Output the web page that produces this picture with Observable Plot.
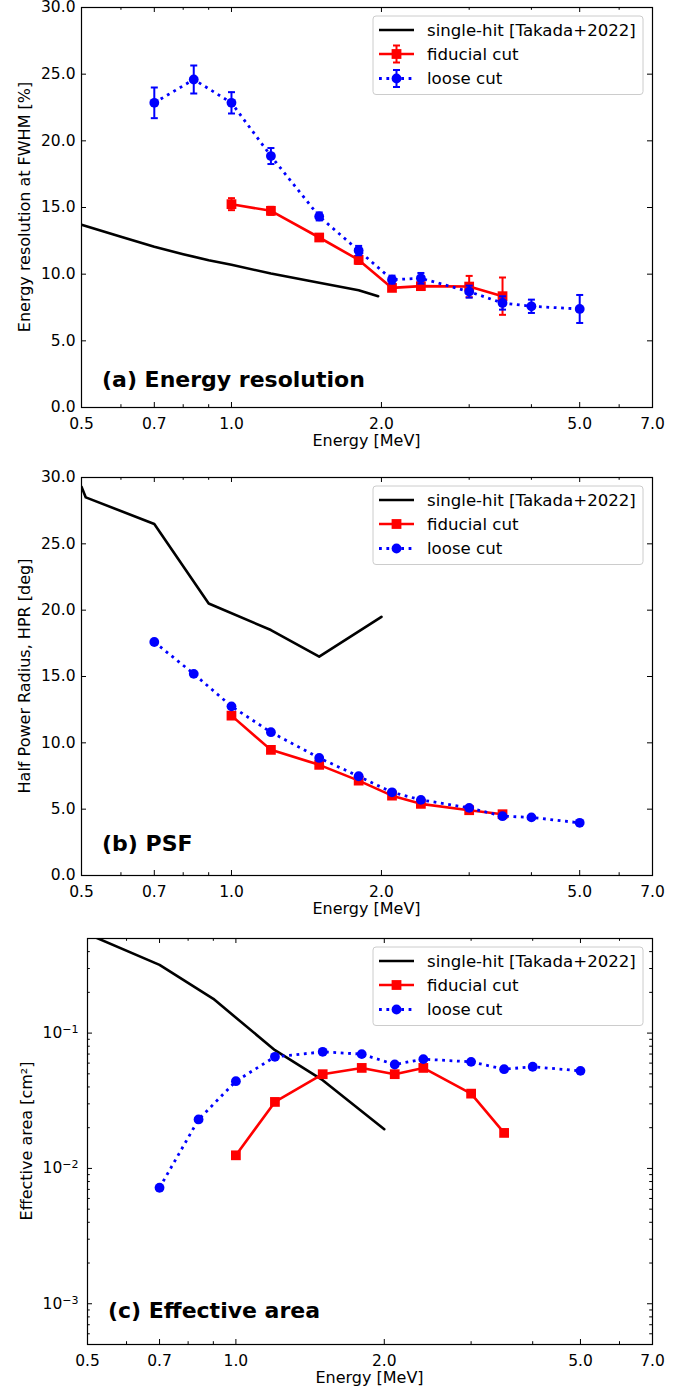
<!DOCTYPE html>
<html><head><meta charset="utf-8">
<script src="https://cdn.jsdelivr.net/npm/d3@7"></script>
<script src="https://cdn.jsdelivr.net/npm/@observablehq/plot@0.6"></script>
<style>
body{margin:0;background:#fff;}
#chart svg{display:block;}
</style></head><body><div id="chart"></div>
<script>
// ---- data ----
const energyFid = [1.0, 1.2, 1.5, 1.8, 2.1, 2.4, 3.0, 3.5];
const energyLoose = [0.7, 0.84, 1.0, 1.2, 1.5, 1.8, 2.1, 2.4, 3.0, 3.5, 4.0, 5.0];

// (a) energy resolution [%]
const takadaResE = [0.5, 0.6, 0.7, 0.8, 0.9, 1.0, 1.2, 1.5, 1.8, 1.97];
const takadaResV = [13.7, 12.8, 12.05, 11.5, 11.05, 10.7, 10.05, 9.35, 8.8, 8.35];
const fidRes = [15.25, 14.75, 12.75, 11.07, 8.97, 9.1, 9.07, 8.35];
const fidResErr = [0.45, 0.3, 0.2, 0.3, 0.2, 0.2, 0.8, 1.4];
const looseRes = [22.85, 24.6, 22.85, 18.86, 14.33, 11.77, 9.59, 9.69, 8.69, 7.84, 7.59, 7.39];
const looseResErr = [1.15, 1.05, 0.8, 0.6, 0.3, 0.35, 0.3, 0.4, 0.45, 0.5, 0.5, 1.05];

// (b) PSF, HPR [deg]
const takadaPsfE = [0.5, 0.51, 0.7, 0.9, 1.2, 1.5, 2.0];
const takadaPsfV = [29.3, 28.5, 26.5, 20.5, 18.5, 16.5, 19.5];
const fidPsf = [12.05, 9.47, 8.34, 7.15, 6.02, 5.4, 4.92, 4.62];
const loosePsf = [17.6, 15.2, 12.75, 10.8, 8.86, 7.48, 6.27, 5.7, 5.1, 4.47, 4.38, 3.97];

// (c) effective area [cm^2]
const takadaAeffE = [0.5, 0.7, 0.9, 1.2, 1.5, 2.0];
const takadaAeffV = [0.54, 0.319, 0.179, 0.0748, 0.0449, 0.0195];
const fidAeff = [0.0125, 0.031, 0.0497, 0.0553, 0.0497, 0.0553, 0.0357, 0.0183];
const looseAeff = [0.0072, 0.023, 0.0441, 0.0668, 0.0727, 0.0699, 0.0586, 0.0642, 0.0613, 0.0541, 0.0564, 0.0526];

// ticks
const xMajor = [0.5, 0.7, 1, 2, 5, 7];
const xMinor = [0.6, 0.8, 0.9, 3, 4, 6];
const yLinMajor = [0, 5, 10, 15, 20, 25, 30];
const yLogMajor = [1e-3, 1e-2, 1e-1];
const yLogMinor = [6e-4, 7e-4, 8e-4, 9e-4, 2e-3, 3e-3, 4e-3, 5e-3, 6e-3, 7e-3, 8e-3, 9e-3,
                   2e-2, 3e-2, 4e-2, 5e-2, 6e-2, 7e-2, 8e-2, 9e-2, 0.2, 0.3, 0.4];

const legendLabels = ["single-hit [Takada+2022]", "fiducial cut", "loose cut"];

// ---- helpers ----
const W = 690;
const FONT = "DejaVu Sans";
const rows = (xs, ys, es) => xs.map((x, i) => ({x, y: ys[i], e: es ? es[i] : 0}));
const capSymbol = {draw(ctx, size) { const w = Math.sqrt(size / Math.PI); ctx.moveTo(-w, 0); ctx.lineTo(w, 0); }};
const logFmt = d => "10^" + Math.round(Math.log10(d));

function seriesMarks(black, fid, loose, withErr) {
  const m = [];
  m.push(Plot.line(black, {x: "x", y: "y", stroke: "black", strokeWidth: 2.6, clip: true}));
  if (withErr) {
    m.push(Plot.ruleX(fid, {x: "x", y1: d => d.y - d.e, y2: d => d.y + d.e, stroke: "red", strokeWidth: 2}));
    m.push(Plot.dot(fid, {x: "x", y: d => d.y + d.e, symbol: capSymbol, r: 3.5, stroke: "red", strokeWidth: 2, fill: "none"}));
    m.push(Plot.dot(fid, {x: "x", y: d => d.y - d.e, symbol: capSymbol, r: 3.5, stroke: "red", strokeWidth: 2, fill: "none"}));
  }
  m.push(Plot.line(fid, {x: "x", y: "y", stroke: "red", strokeWidth: 2.6}));
  m.push(Plot.dot(fid, {x: "x", y: "y", symbol: "square", r: 5.5, fill: "red", stroke: "none"}));
  if (withErr) {
    m.push(Plot.ruleX(loose, {x: "x", y1: d => d.y - d.e, y2: d => d.y + d.e, stroke: "blue", strokeWidth: 2}));
    m.push(Plot.dot(loose, {x: "x", y: d => d.y + d.e, symbol: capSymbol, r: 3.5, stroke: "blue", strokeWidth: 2, fill: "none"}));
    m.push(Plot.dot(loose, {x: "x", y: d => d.y - d.e, symbol: capSymbol, r: 3.5, stroke: "blue", strokeWidth: 2, fill: "none"}));
  }
  m.push(Plot.line(loose, {x: "x", y: "y", stroke: "blue", strokeWidth: 2.8, strokeDasharray: "2.8,4.6", strokeLinecap: "butt"}));
  m.push(Plot.dot(loose, {x: "x", y: "y", symbol: "circle", r: 4.9, fill: "blue", stroke: "none"}));
  return m;
}

function panel(o) {
  const H = o.height - o.marginTop - o.marginBottom;
  const Wf = W - o.marginLeft - o.marginRight;
  const tk = {stroke: "black", strokeWidth: 1};
  const marks = [
    ...o.marks,
    Plot.frame({stroke: "black", strokeWidth: 1.2}),
    Plot.tickX(xMajor, {x: d => d, insetTop: H - 5, ...tk}),
    Plot.tickX(xMajor, {x: d => d, insetBottom: H - 5, ...tk}),
    Plot.tickX(xMinor, {x: d => d, insetTop: H - 2.8, ...tk}),
    Plot.tickX(xMinor, {x: d => d, insetBottom: H - 2.8, ...tk}),
    Plot.tickY(o.yMajor, {y: d => d, insetRight: Wf - 5, ...tk}),
    Plot.tickY(o.yMajor, {y: d => d, insetLeft: Wf - 5, ...tk}),
    Plot.axisX({ticks: xMajor, tickFormat: d3.format(".1f"), tickSize: 0, tickPadding: 10, fontSize: 15.5, label: null}),
    Plot.axisY({ticks: o.yMajor, tickFormat: o.yFormat, tickSize: 0, tickPadding: o.yPad, fontSize: 15.5, label: null})
  ];
  if (o.yMinor) {
    marks.push(Plot.tickY(o.yMinor, {y: d => d, insetRight: Wf - 2.8, ...tk}));
    marks.push(Plot.tickY(o.yMinor, {y: d => d, insetLeft: Wf - 2.8, ...tk}));
  }
  const svg = Plot.plot({
    width: W, height: o.height,
    marginTop: o.marginTop, marginBottom: o.marginBottom, marginLeft: o.marginLeft, marginRight: o.marginRight,
    style: {fontFamily: FONT, fontSize: "15.5px", background: "white", color: "black", overflow: "visible"},
    x: {type: "log", domain: [0.5, 7], label: null},
    y: {type: o.yType, domain: o.yDomain, label: null},
    marks
  });
  const s = d3.select(svg);
  // superscript exponents on log tick labels
  s.selectAll("text").each(function() {
    const m = /^10\^(-?\d+)$/.exec(this.textContent);
    if (m) {
      const t = d3.select(this);
      t.text("10");
      t.append("tspan").attr("dy", "-5").attr("font-size", 11).text(m[1].replace("-", "\u2212"));
    }
  });
  // y label
  s.append("text").attr("transform", `translate(${o.yLabelX},${o.marginTop + H / 2}) rotate(-90)`)
    .attr("text-anchor", "middle").attr("dominant-baseline", "central")
    .attr("font-family", FONT).attr("font-size", 16).attr("fill", "black").text(o.yLabel);
  // x label
  s.append("text").attr("x", o.marginLeft + Wf / 2).attr("y", o.height - o.marginBottom + 39)
    .attr("text-anchor", "middle").attr("font-family", FONT).attr("font-size", 16).attr("fill", "black").text("Energy [MeV]");
  // panel label
  s.append("text").attr("x", o.tagX).attr("y", o.height - o.marginBottom - o.tagUp).attr("text-anchor", "start")
    .attr("font-family", FONT).attr("font-weight", "bold").attr("font-size", 22).attr("fill", "black").text(o.tag);
  // legend
  const top = o.marginTop;
  const g = s.append("g");
  g.append("rect").attr("x", 373).attr("y", top + 9).attr("width", 270).attr("height", 78.5).attr("rx", 3)
    .attr("fill", "white").attr("fill-opacity", 0.8).attr("stroke", "#cccccc").attr("stroke-width", 1);
  const ys = [top + 23, top + 47, top + 71.5];
  const x0 = 379, x1 = 414, xm = 396.5;
  g.append("line").attr("x1", x0).attr("x2", x1).attr("y1", ys[0]).attr("y2", ys[0]).attr("stroke", "black").attr("stroke-width", 2.6);
  g.append("line").attr("x1", x0).attr("x2", x1).attr("y1", ys[1]).attr("y2", ys[1]).attr("stroke", "red").attr("stroke-width", 2.6);
  g.append("line").attr("x1", x0).attr("x2", x1).attr("y1", ys[2]).attr("y2", ys[2]).attr("stroke", "blue").attr("stroke-width", 2.8).attr("stroke-dasharray", "2.8,4.6");
  if (o.legendErr) {
    [[ys[1], "red"], [ys[2], "blue"]].forEach(([y, c]) => {
      g.append("line").attr("x1", xm).attr("x2", xm).attr("y1", y - 8.5).attr("y2", y + 8.5).attr("stroke", c).attr("stroke-width", 2);
      g.append("line").attr("x1", xm - 3.5).attr("x2", xm + 3.5).attr("y1", y - 8.5).attr("y2", y - 8.5).attr("stroke", c).attr("stroke-width", 2);
      g.append("line").attr("x1", xm - 3.5).attr("x2", xm + 3.5).attr("y1", y + 8.5).attr("y2", y + 8.5).attr("stroke", c).attr("stroke-width", 2);
    });
  }
  g.append("rect").attr("x", xm - 4.9).attr("y", ys[1] - 4.9).attr("width", 9.8).attr("height", 9.8).attr("fill", "red");
  g.append("circle").attr("cx", xm).attr("cy", ys[2]).attr("r", 4.9).attr("fill", "blue");
  legendLabels.forEach((t, i) => {
    g.append("text").attr("x", 427).attr("y", ys[i] + 5.6).attr("text-anchor", "start")
      .attr("font-family", FONT).attr("font-size", 16.6).attr("fill", "black").text(t);
  });
  return svg;
}

const chart = document.getElementById("chart");
const fmt1 = d3.format(".1f");

chart.append(panel({
  height: 468, marginTop: 7, marginBottom: 61, marginLeft: 81, marginRight: 38,
  yType: "linear", yDomain: [0, 30], yMajor: yLinMajor, yFormat: fmt1, yPad: 6,
  yLabel: "Energy resolution at FWHM [%]", yLabelX: 24,
  tag: "(a) Energy resolution", tagX: 102, tagUp: 20, legendErr: true,
  marks: seriesMarks(rows(takadaResE, takadaResV), rows(energyFid, fidRes, fidResErr), rows(energyLoose, looseRes, looseResErr), true)
}));

chart.append(panel({
  height: 468, marginTop: 9, marginBottom: 61, marginLeft: 81, marginRight: 38,
  yType: "linear", yDomain: [0, 30], yMajor: yLinMajor, yFormat: fmt1, yPad: 6,
  yLabel: "Half Power Radius, HPR [deg]", yLabelX: 24,
  tag: "(b) PSF", tagX: 102, tagUp: 24, legendErr: false,
  marks: seriesMarks(rows(takadaPsfE, takadaPsfV), rows(energyFid, fidPsf), rows(energyLoose, loosePsf), false)
}));

chart.append(panel({
  height: 455, marginTop: 2, marginBottom: 47, marginLeft: 87, marginRight: 38,
  yType: "log", yDomain: [5e-4, 0.5], yMajor: yLogMajor, yMinor: yLogMinor, yFormat: logFmt, yPad: 9,
  yLabel: "Effective area [cm\u00B2]", yLabelX: 26,
  tag: "(c) Effective area", tagX: 108, tagUp: 26, legendErr: false,
  marks: seriesMarks(rows(takadaAeffE, takadaAeffV), rows(energyFid, fidAeff), rows(energyLoose, looseAeff), false)
}));
</script>
</body></html>
